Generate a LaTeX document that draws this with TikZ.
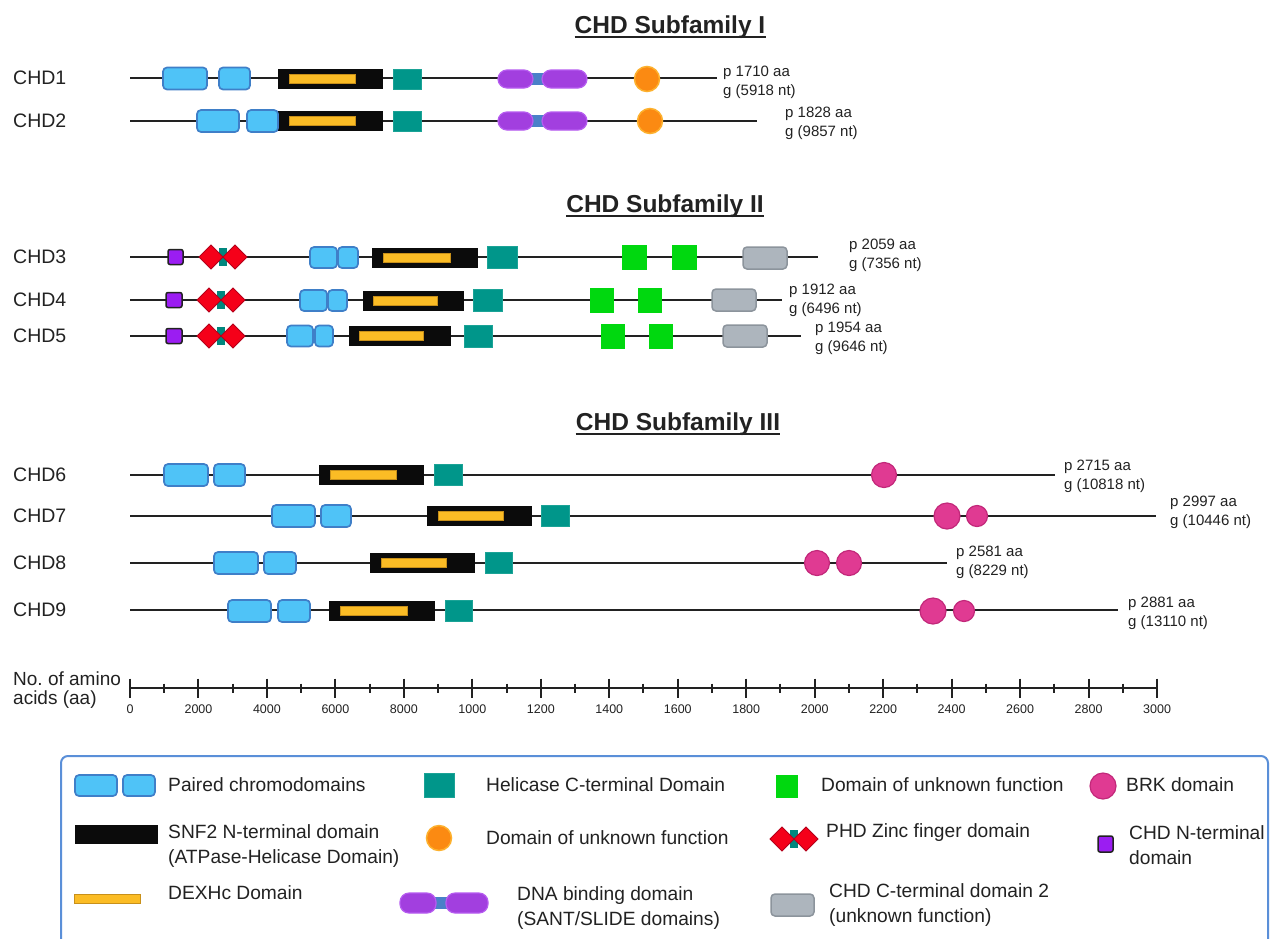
\documentclass[tikz,border=0pt]{standalone}
\usepackage{fontspec}
\setmainfont{Liberation Sans}
\definecolor{txt}{HTML}{222222}
\definecolor{chromoF}{HTML}{4FC3F7}
\definecolor{chromoD}{HTML}{3F7FC8}
\definecolor{snfF}{HTML}{0B0B0B}
\definecolor{dexF}{HTML}{FBBC25}
\definecolor{dexD}{HTML}{C8901A}
\definecolor{helF}{HTML}{00968A}
\definecolor{helD}{HTML}{1BA396}
\definecolor{dufG}{HTML}{00D80F}
\definecolor{oraF}{HTML}{FB8A12}
\definecolor{oraD}{HTML}{FDB12E}
\definecolor{purF}{HTML}{A23FDF}
\definecolor{purD}{HTML}{B65CF0}
\definecolor{linkB}{HTML}{4A80C8}
\definecolor{brkF}{HTML}{E03A92}
\definecolor{brkD}{HTML}{C2287A}
\definecolor{phdF}{HTML}{F50019}
\definecolor{phdD}{HTML}{B4001A}
\definecolor{phdT}{HTML}{00877E}
\definecolor{ntF}{HTML}{9B1DF2}
\definecolor{greyF}{HTML}{ADB5BD}
\definecolor{greyD}{HTML}{8C949C}
\definecolor{legB}{HTML}{5A8FD8}
\tikzset{
  backbone/.style={draw=txt, line width=2pt},
  chromo/.style={fill=chromoF, draw=chromoD, line width=1.7pt, rounded corners=4pt},
  snf/.style={fill=snfF, draw=snfF, line width=0.5pt},
  dexh/.style={fill=dexF, draw=dexD, line width=0.6pt},
  hel/.style={fill=helF, draw=helD, line width=0.8pt},
  duf/.style={fill=dufG, draw=dufG, line width=0.5pt},
  orng/.style={fill=oraF, draw=oraD, line width=1.5pt},
  pill/.style={fill=purF, draw=purD, line width=1.2pt, rounded corners=9pt},
  plink/.style={fill=linkB, draw=none},
  brk/.style={fill=brkF, draw=brkD, line width=1.2pt},
  phd/.style={fill=phdF, draw=phdD, line width=1pt},
  phdlink/.style={fill=phdT, draw=none},
  nterm/.style={fill=ntF, draw=txt, line width=1.5pt, rounded corners=2pt},
  ctd/.style={fill=greyF, draw=greyD, line width=1.5pt, rounded corners=4pt},
  rowlab/.style={text=txt, font=\fontsize{19.5}{23}\selectfont, anchor=west, inner sep=0pt},
  info/.style={text=txt, font=\fontsize{15}{19}\selectfont, anchor=west, align=left, inner sep=0pt},
  ttl/.style={text=txt, font=\bfseries\fontsize{24.5}{28}\selectfont, anchor=base, inner sep=0pt},
  uline/.style={draw=txt, line width=2pt},
  ticklab/.style={text=txt, font=\fontsize{12.5}{14}\selectfont, inner sep=0pt},
  legtxt/.style={text=txt, font=\fontsize{19.2}{25}\selectfont, anchor=west, align=left, inner sep=0pt},
  legbox/.style={draw=legB, line width=2pt, rounded corners=7pt}
}
% macros
\newcommand{\chr}[4]{\draw[chromo] (#1,#3-#4) rectangle (#2,#3+#4);}
\newcommand{\snfd}[4]{\draw[snf] (#1,#3-#4) rectangle (#2,#3+#4);}
\newcommand{\dexd}[3]{\draw[dexh] (#1,#3-4.5) rectangle (#2,#3+4.5);}
\newcommand{\held}[4]{\draw[hel] (#1,#3-#4) rectangle (#2,#3+#4);}
\newcommand{\dufd}[3]{\draw[duf] (#1,#3-12) rectangle (#2,#3+12);}
\newcommand{\ctdd}[3]{\draw[ctd] (#1,#3-11) rectangle (#2,#3+11);}
\newcommand{\ntd}[3]{\draw[nterm] (#1,#3-7.5) rectangle (#2,#3+7.5);}
\newcommand{\phdd}[2]{%
  \fill[phdlink] (#1-4,#2-9) rectangle (#1+4,#2+9);
  \draw[phd] (#1-24,#2) -- (#1-12,#2-12) -- (#1,#2) -- (#1-12,#2+12) -- cycle;
  \draw[phd] (#1,#2) -- (#1+12,#2-12) -- (#1+24,#2) -- (#1+12,#2+12) -- cycle;
  \fill[phdlink] (#1-3.5,#2-9) rectangle (#1+3.5,#2-5);
  \fill[phdlink] (#1-3.5,#2+5) rectangle (#1+3.5,#2+9);}
\newcommand{\dnab}[6]{% x1 x2 x3 x4 y halfheight
  \fill[plink] (#2-3,#5-6) rectangle (#3+3,#5+6);
  \draw[pill] (#1,#5-#6) rectangle (#2,#5+#6);
  \draw[pill] (#3,#5-#6) rectangle (#4,#5+#6);}
\begin{document}
\begin{tikzpicture}[x=1pt,y=-1pt]
\useasboundingbox (0,0) rectangle (1271,938);
\fill[white] (0,0) rectangle (1271,938);

% ---------- titles ----------
\node[ttl] (t1) at (670,33) {CHD Subfamily I};
\draw[uline] ([yshift=-4pt]t1.base west) -- ([yshift=-4pt]t1.base east);
\node[ttl] (t2) at (665,212) {CHD Subfamily II};
\draw[uline] ([yshift=-4pt]t2.base west) -- ([yshift=-4pt]t2.base east);
\node[ttl] (t3) at (678,430) {CHD Subfamily III};
\draw[uline] ([yshift=-4pt]t3.base west) -- ([yshift=-4pt]t3.base east);

% ---------- Subfamily I ----------
\node[rowlab] (l1) at (13,78) {CHD1};
\coordinate (b1s) at (130,78); \coordinate (b1e) at (717,78);
\draw[backbone] (b1s) -- (b1e);
\chr{163}{207}{78.5}{11} \chr{219}{250}{78.5}{11}
\snfd{278}{382}{79}{9.5} \dexd{289}{355}{79}
\held{393}{421}{79}{10}
\dnab{498}{533}{542}{587}{79}{9}
\draw[orng] (647,79) circle[radius=12.5pt];
\node[info] (i1) at (723,82) {p 1710 aa\\g (5918 nt)};

\node[rowlab] (l2) at (13,121) {CHD2};
\coordinate (b2s) at (130,121); \coordinate (b2e) at (757,121);
\draw[backbone] (b2s) -- (b2e);
\snfd{278}{382}{121}{9.5} \dexd{289}{355}{121}
\chr{197}{239}{121}{11} \chr{247}{278}{121}{11}
\held{393}{421}{121}{10}
\dnab{498}{533}{542}{587}{121}{9}
\draw[orng] (650,121) circle[radius=12.5pt];
\node[info] (i2) at (785,123) {p 1828 aa\\g (9857 nt)};

% ---------- Subfamily II ----------
\node[rowlab] (l3) at (13,257) {CHD3};
\coordinate (b3s) at (130,257); \coordinate (b3e) at (818,257);
\draw[backbone] (b3s) -- (b3e);
\ntd{168}{183}{257} \phdd{223}{257}
\chr{310}{337}{257.5}{10.5} \chr{338}{358}{257.5}{10.5}
\snfd{372}{477}{257.5}{9.5} \dexd{383}{450}{257.5}
\held{487}{517}{257}{11}
\dufd{622}{646}{257} \dufd{672}{696}{257}
\ctdd{743}{787}{258}
\node[info] (i3) at (849,255) {p 2059 aa\\g (7356 nt)};

\node[rowlab] (l4) at (13,300) {CHD4};
\coordinate (b4s) at (130,300); \coordinate (b4e) at (782,300);
\draw[backbone] (b4s) -- (b4e);
\ntd{166}{182}{300} \phdd{221}{300}
\chr{300}{327}{300.5}{10.5} \chr{328}{347}{300.5}{10.5}
\snfd{363}{463}{300.5}{9.5} \dexd{373}{437}{300.5}
\held{473}{502}{300}{11}
\dufd{590}{613}{300} \dufd{638}{661}{300}
\ctdd{712}{756}{300}
\node[info] (i4) at (789,300.5) {p 1912 aa\\g (6496 nt)};

\node[rowlab] (l5) at (13,336) {CHD5};
\coordinate (b5s) at (130,336); \coordinate (b5e) at (801,336);
\draw[backbone] (b5s) -- (b5e);
\ntd{166}{182}{336} \phdd{221}{336}
\chr{287}{313}{336}{10.5} \chr{315}{333}{336}{10.5}
\snfd{349}{450}{336}{9.5} \dexd{359}{423}{336}
\held{464}{492}{336}{11}
\dufd{601}{624}{336} \dufd{649}{672}{336}
\ctdd{723}{767}{336}
\node[info] (i5) at (815,338.5) {p 1954 aa\\g (9646 nt)};

% ---------- Subfamily III ----------
\node[rowlab] (l6) at (13,475) {CHD6};
\coordinate (b6s) at (130,475); \coordinate (b6e) at (1055,475);
\draw[backbone] (b6s) -- (b6e);
\chr{164}{208}{475}{11} \chr{214}{245}{475}{11}
\snfd{319}{423}{475}{9.5} \dexd{330}{396}{475}
\held{434}{462}{475}{10.5}
\draw[brk] (884,475) circle[radius=12.5pt];
\node[info] (i6) at (1064,476.5) {p 2715 aa\\g (10818 nt)};

\node[rowlab] (l7) at (13,516) {CHD7};
\coordinate (b7s) at (130,516); \coordinate (b7e) at (1156,516);
\draw[backbone] (b7s) -- (b7e);
\chr{272}{315}{516}{11} \chr{321}{351}{516}{11}
\snfd{427}{531}{516}{9.5} \dexd{438}{503}{516}
\held{541}{569}{516}{10.5}
\draw[brk] (947,516) circle[radius=13pt];
\draw[brk] (977,516) circle[radius=10.5pt];
\node[info] (i7) at (1170,512.5) {p 2997 aa\\g (10446 nt)};

\node[rowlab] (l8) at (13,563) {CHD8};
\coordinate (b8s) at (130,563); \coordinate (b8e) at (947,563);
\draw[backbone] (b8s) -- (b8e);
\chr{214}{258}{563}{11} \chr{264}{296}{563}{11}
\snfd{370}{474}{563}{9.5} \dexd{381}{446}{563}
\held{485}{512}{563}{10.5}
\draw[brk] (817,563) circle[radius=12.5pt];
\draw[brk] (849,563) circle[radius=12.5pt];
\node[info] (i8) at (956,562.5) {p 2581 aa\\g (8229 nt)};

\node[rowlab] (l9) at (13,610) {CHD9};
\coordinate (b9s) at (130,610); \coordinate (b9e) at (1118,610);
\draw[backbone] (b9s) -- (b9e);
\chr{228}{271}{611}{11} \chr{278}{310}{611}{11}
\snfd{329}{434}{611}{9.5} \dexd{340}{407}{611}
\held{445}{472}{611}{10.5}
\draw[brk] (933,611) circle[radius=13pt];
\draw[brk] (964,611) circle[radius=10.5pt];
\node[info] (i9) at (1128,613) {p 2881 aa\\g (13110 nt)};

% ---------- axis ----------
\node[rowlab, font=\fontsize{19}{23}\selectfont] (axl) at (13,690) {\begin{tabular}{@{}l@{}}No.\ of amino\\[-4pt]acids (aa)\end{tabular}};
\coordinate (ax0) at (130,688); \coordinate (ax1) at (1157,688);
\draw[draw=txt, line width=2pt] (ax0) -- (ax1);
\foreach \i in {0,...,15} {
  \draw[draw=txt, line width=2pt] (130+68.47*\i,678.5) -- (130+68.47*\i,697.5);
}
\foreach \i in {0,...,14} {
  \draw[draw=txt, line width=2pt] (164.2+68.47*\i,683.5) -- (164.2+68.47*\i,692.5);
}
\foreach \lab [count=\i from 0] in {0,2000,4000,6000,8000,1000,1200,1400,1600,1800,2000,2200,2400,2600,2800,3000} {
  \node[ticklab] (tk\i) at (130+68.47*\i,709) {\lab};
}

% ---------- legend ----------
\draw[legbox] (61,756) rectangle (1268,975);
% row 1
\chr{75}{117}{785.5}{10.5} \chr{123}{155}{785.5}{10.5}
\node[legtxt] (g1) at (168,785) {Paired chromodomains};
\held{424}{454}{785}{12}
\node[legtxt] (g2) at (486,785) {Helicase C-terminal Domain};
\draw[duf] (776,775) rectangle (797,797);
\node[legtxt] (g3) at (821,785) {Domain of unknown function};
\draw[brk] (1103,786) circle[radius=13pt];
\node[legtxt] (g4) at (1126,785) {BRK domain};
% row 2
\snfd{75}{157}{834}{9}
\node[legtxt] (g5) at (168,846) {SNF2 N-terminal domain\\(ATPase-Helicase Domain)};
\draw[orng] (439,838) circle[radius=12.5pt];
\node[legtxt] (g6) at (486,838) {Domain of unknown function};
\phdd{794}{839}
\node[legtxt] (g7) at (826,833) {PHD Zinc finger domain};
\draw[nterm] (1098,836) rectangle (1113,852);
\node[legtxt] (g8) at (1129,845) {CHD N-terminal\\domain};
% row 3
\draw[dexh] (74,894) rectangle (140,903.5);
\node[legtxt] (g9) at (168,893) {DEXHc Domain};
\dnab{400}{436}{446}{488}{903}{10}
\node[legtxt] (g10) at (517,908.5) {DNA binding domain\\(SANT/SLIDE domains)};
\ctdd{771}{814}{905}
\node[legtxt] (g11) at (829,905) {CHD C-terminal domain 2\\(unknown function)};
\end{tikzpicture}
\end{document}
